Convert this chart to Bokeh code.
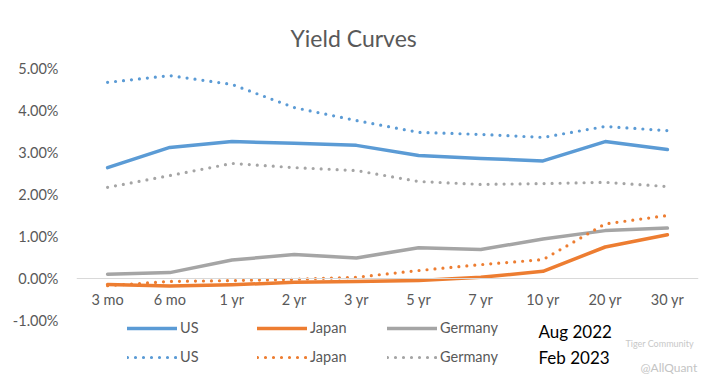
from bokeh.plotting import figure
from bokeh.models import Range1d, FactorRange, FixedTicker, PrintfTickFormatter, Legend, LegendItem, Label
from bokeh.embed import file_html
from bokeh.resources import INLINE

tenors = ["3 mo", "6 mo", "1 yr", "2 yr", "3 yr", "5 yr", "7 yr", "10 yr", "20 yr", "30 yr"]
us_aug = [2.64, 3.12, 3.26, 3.22, 3.17, 2.93, 2.86, 2.80, 3.26, 3.07]
jp_aug = [-0.14, -0.18, -0.15, -0.09, -0.07, -0.05, 0.03, 0.17, 0.75, 1.04]
de_aug = [0.10, 0.14, 0.44, 0.57, 0.49, 0.73, 0.69, 0.94, 1.14, 1.20]
us_feb = [4.67, 4.83, 4.62, 4.07, 3.76, 3.48, 3.43, 3.36, 3.62, 3.52]
jp_feb = [-0.17, -0.07, -0.05, -0.02, 0.03, 0.19, 0.33, 0.45, 1.30, 1.50]
de_feb = [2.17, 2.45, 2.74, 2.64, 2.57, 2.31, 2.24, 2.26, 2.29, 2.19]
y_ticks = [-1, 0, 1, 2, 3, 4, 5]

W, H = 705, 378
TOP, LEFT, RIGHT = 68, 76, 7
px_per_unit = 42.0
frame_h = H - TOP
y_lo = 5.0 - frame_h / px_per_unit

FONT = "Lato"
GREY = "#595959"
BLUE, ORANGE, LGREY = "#5B9BD5", "#ED7D31", "#A5A5A5"

p = figure(width=W, height=H, x_range=FactorRange(*tenors, range_padding=0),
           y_range=Range1d(y_lo, 5.0), output_backend="svg", toolbar_location=None,
           title="Yield Curves", min_border_top=TOP, min_border_left=LEFT,
           min_border_right=RIGHT, min_border_bottom=0)
p.title.text_font = FONT
p.title.text_font_size = "23px"
p.title.text_font_style = "normal"
p.title.text_color = GREY
p.title.align = "left"
p.title.offset = 214
p.title.standoff = 34
p.outline_line_color = None
p.xgrid.visible = False
p.ygrid.visible = False

xa = p.xaxis[0]
xa.fixed_location = 0
xa.axis_line_color = "#d9d9d9"
xa.axis_line_width = 1
xa.major_tick_line_color = None
xa.major_tick_out = 0
xa.major_tick_in = 0
xa.major_label_standoff = 12
xa.major_label_text_font = FONT
xa.major_label_text_font_size = "14.5px"
xa.major_label_text_color = GREY

ya = p.yaxis[0]
ya.ticker = FixedTicker(ticks=y_ticks)
ya.formatter = PrintfTickFormatter(format="%.2f%%")
ya.axis_line_color = None
ya.major_tick_line_color = None
ya.minor_tick_line_color = None
ya.major_tick_out = 0
ya.major_tick_in = 0
ya.major_label_standoff = 18
ya.major_label_text_font = FONT
ya.major_label_text_font_size = "14.5px"
ya.major_label_text_color = GREY

def solid(y, c):
    return p.line(tenors, y, line_color=c, line_width=3.5, line_join="round", line_cap="round")

def dotted(y, c):
    return p.line(tenors, y, line_color=c, line_width=3.2, line_dash="0 8", line_cap="round", line_join="round")

r_de_feb = dotted(de_feb, LGREY)
r_de_aug = solid(de_aug, LGREY)
r_jp_feb = dotted(jp_feb, ORANGE)
r_jp_aug = solid(jp_aug, ORANGE)
r_us_feb = dotted(us_feb, BLUE)
r_us_aug = solid(us_aug, BLUE)

def make_legend(items, y):
    leg = Legend(items=items, location=(51, y), orientation="horizontal",
                 glyph_width=50, glyph_height=16, label_height=16, label_width=77,
                 label_standoff=3, spacing=0, padding=0, margin=0,
                 border_line_color=None, background_fill_alpha=0,
                 label_text_font=FONT, label_text_font_size="14.5px", label_text_color=GREY)
    p.add_layout(leg)

make_legend([LegendItem(label="US", renderers=[r_us_aug]),
             LegendItem(label="Japan", renderers=[r_jp_aug]),
             LegendItem(label="Germany", renderers=[r_de_aug])], 42)
make_legend([LegendItem(label="US", renderers=[r_us_feb]),
             LegendItem(label="Japan", renderers=[r_jp_feb]),
             LegendItem(label="Germany", renderers=[r_de_feb])], 13)

p.add_layout(Label(x=462, y=47, x_units="screen", y_units="screen", text="Aug 2022",
                   text_font=FONT, text_font_size="17px", text_color="#000000",
                   text_align="left", text_baseline="middle"))
p.add_layout(Label(x=462, y=21, x_units="screen", y_units="screen", text="Feb 2023",
                   text_font=FONT, text_font_size="17px", text_color="#000000",
                   text_align="left", text_baseline="middle"))
p.add_layout(Label(x=549, y=35, x_units="screen", y_units="screen", text="Tiger Community",
                   text_font=FONT, text_font_size="9px", text_color="#c8c8c8",
                   text_align="left", text_baseline="middle"))
p.add_layout(Label(x=564, y=11, x_units="screen", y_units="screen", text="@AllQuant",
                   text_font=FONT, text_font_size="12px", text_color="#c4c4c4",
                   text_align="left", text_baseline="middle"))

open("out.html", "w").write(file_html(p, INLINE))
